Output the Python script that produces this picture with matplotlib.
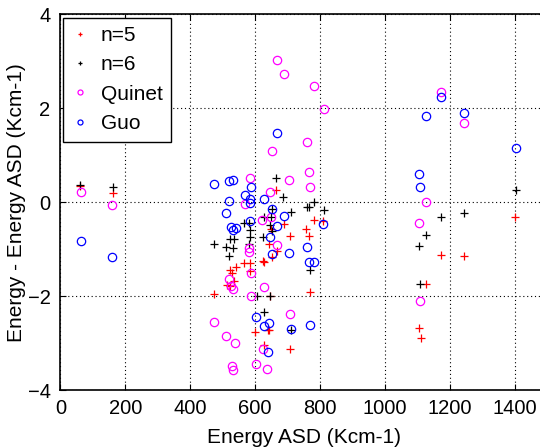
import numpy as np
import matplotlib
matplotlib.use('Agg')
import matplotlib.pyplot as plt

plt.rcParams['font.family'] = ['Liberation Sans', 'DejaVu Sans']

## n=5 (red plus)
n5_x = [62, 161, 665, 780, 808, 690, 650, 757, 766, 707, 643, 669, 652, 623, 627,
        567, 585, 541, 523, 529, 583, 535, 515, 522, 473, 768, 645, 601, 639, 643,
        709, 627, 1402, 1173, 1244, 1128, 1104, 1110]
n5_y = [0.36, 0.20, 0.27, -0.37, -0.39, -0.45, -0.56, -0.57, -0.71, -0.72, -0.88,
        -1.04, -1.16, -1.24, -1.26, -1.28, -1.28, -1.38, -1.43, -1.49, -1.45, -1.66,
        -1.75, -1.77, -1.94, -1.91, -1.99, -2.76, -2.72, -2.72, -3.12, -3.04,
        -0.30, -1.12, -1.14, -1.74, -2.66, -2.88]

## n=6 (black plus)
n6_x = [62, 161, 664, 687, 782, 759, 765, 811, 652, 710, 626, 650, 580, 567, 646,
        652, 584, 585, 523, 534, 624, 474, 511, 532, 581, 521, 768, 605, 646, 628,
        710, 1403, 1173, 1244, 1127, 1104, 1109]
n6_y = [0.38, 0.34, 0.53, 0.11, 0.01, -0.09, -0.09, -0.16, -0.13, -0.21, -0.31,
        -0.31, -0.43, -0.43, -0.48, -0.60, -0.58, -0.74, -0.77, -0.77, -0.74, -0.89,
        -0.95, -0.97, -0.88, -1.13, -1.44, -1.98, -2.00, -2.32, -2.72,
        0.26, -0.30, -0.22, -0.69, -0.93, -1.73]

## Quinet (magenta circles)
quinet_x = [64, 159, 667, 688, 783, 812, 761, 651, 583, 706, 766, 768, 645, 568,
            621, 650, 669, 582, 582, 586, 519, 526, 532, 627, 587, 709, 473, 509,
            539, 625, 528, 532, 602, 637, 1173, 1244, 1127, 1104, 1109]
quinet_y = [0.22, -0.06, 3.03, 2.73, 2.47, 1.99, 1.29, 1.10, 0.53, 0.48, 0.65, 0.32,
            0.23, -0.04, -0.38, -0.31, -0.90, -0.97, -1.06, -1.50, -1.62, -1.77,
            -1.84, -1.80, -1.99, -2.38, -2.55, -2.85, -3.00, -3.12, -3.47, -3.57,
            -3.43, -3.55, 2.36, 1.69, 0.02, -0.44, -2.10]

## Guo (blue circles)
guo_x = [64, 160, 473, 519, 532, 586, 568, 585, 521, 583, 627, 510, 652, 585, 688,
         669, 527, 541, 532, 810, 646, 761, 651, 706, 767, 780, 603, 628, 644, 710,
         768, 640, 667, 1173, 1127, 1244, 1403, 1104, 1109]
guo_y = [-0.82, -1.15, 0.40, 0.45, 0.47, 0.32, 0.16, 0.07, 0.04, -0.01, 0.07, -0.23,
         -0.13, -0.40, -0.28, -0.49, -0.53, -0.55, -0.58, -0.46, -0.74, -0.94, -1.10,
         -1.08, -1.27, -1.27, -2.43, -2.62, -2.57, -2.70, -2.61, -3.19, 1.47,
         2.25, 1.84, 1.91, 1.16, 0.61, 0.32]

x_ticks = [0, 200, 400, 600, 800, 1000, 1200, 1400]
y_ticks = [-4, -2, 0, 2, 4]

fig = plt.figure(figsize=(5.4, 4.47), dpi=100)
ax = fig.add_axes([0.1117, 0.1264, 0.9017, 0.8412])

ax.plot(n5_x, n5_y, '+', color='#ff0000', ms=6, mew=0.9, label='n=5')
ax.plot(n6_x, n6_y, '+', color='black', ms=6, mew=0.9, label='n=6')
ax.plot(quinet_x, quinet_y, 'o', mfc='none', mec='#ff00ff', ms=6, mew=0.9, label='Quinet')
ax.plot(guo_x, guo_y, 'o', mfc='none', mec='#0000ff', ms=6, mew=0.9, label='Guo')

ax.set_xlim(0, 1500)
ax.set_ylim(-4, 4)
ax.set_xticks(x_ticks)
ax.set_yticks(y_ticks)
ax.grid(True, color='black', linestyle=(0, (1, 2.5)), linewidth=0.8)
ax.tick_params(direction='in', top=True, right=True, labelsize=14.5, length=4)
ax.tick_params(axis='x', pad=6)
ax.tick_params(axis='y', pad=7)
for s in ax.spines.values():
    s.set_linewidth(1.2)

ax.set_xlabel('Energy ASD (Kcm-1)', fontsize=15, labelpad=7)
ax.set_ylabel('Energy - Energy ASD (Kcm-1)', fontsize=15, labelpad=1)

leg = ax.legend(loc='upper left', fontsize=15, markerscale=0.6, handlelength=0.8,
                handletextpad=0.6, borderaxespad=0.15, labelspacing=0.5,
                borderpad=0.4, fancybox=False, framealpha=1, edgecolor='black')
leg.get_frame().set_linewidth(1.0)

fig.savefig('out.png', dpi=100)
